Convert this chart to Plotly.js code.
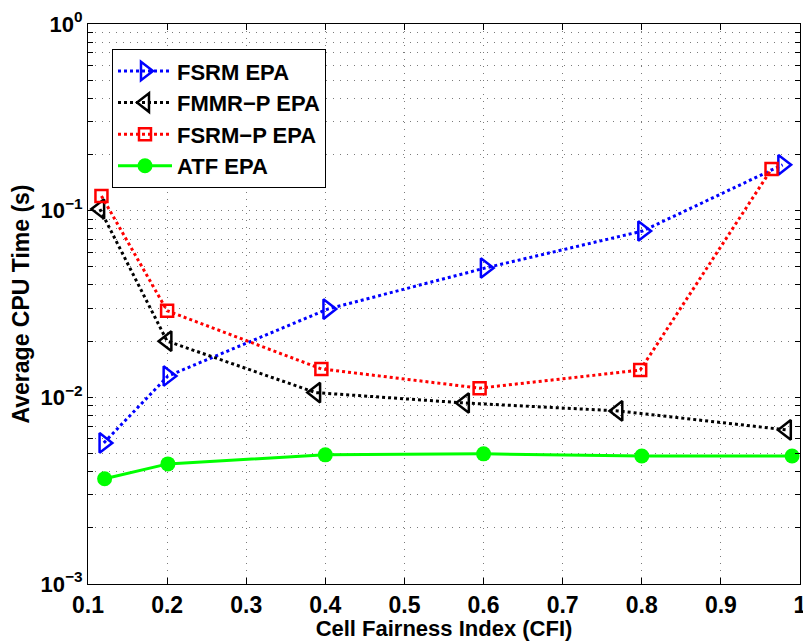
<!DOCTYPE html>
<html>
<head>
<meta charset="utf-8">
<script src="https://cdn.plot.ly/plotly-3.0.1.min.js"></script>
<style>html,body{margin:0;padding:0;background:#fff;}#chart{width:803px;height:641px;}</style>
</head>
<body>
<div id="chart"></div>
<script>
// Series data
const fsrmX  = [0.12, 0.201, 0.403, 0.602, 0.801, 0.978];
const fsrmY  = [0.0057, 0.0130, 0.0297, 0.0493, 0.0778, 0.176];

const fmmrX  = [0.115, 0.2, 0.388, 0.576, 0.77, 0.983];
const fmmrY  = [0.102, 0.0200, 0.0106, 0.00933, 0.00846, 0.00669];

const fsrmpX = [0.117, 0.2, 0.395, 0.595, 0.798, 0.964];
const fsrmpY = [0.120, 0.0291, 0.0142, 0.0112, 0.0140, 0.167];

const atfX   = [0.121, 0.201, 0.4, 0.6, 0.8, 0.99];
const atfY   = [0.00366, 0.00440, 0.00492, 0.00498, 0.00485, 0.00485];

const seriesNames = ['FSRM EPA', 'FMMR\u2212P EPA', 'FSRM\u2212P EPA', 'ATF EPA'];

// Axis ticks
const xTickVals = [0.1, 0.2, 0.3, 0.4, 0.5, 0.6, 0.7, 0.8, 0.9, 1];
const xTickText = ['0.1', '0.2', '0.3', '0.4', '0.5', '0.6', '0.7', '0.8', '0.9', '1'];
const yDecades = [-3, -2, -1, 0];
const yDecadeLabels = ['10<sup>\u22123</sup>', '10<sup>\u22122</sup>', '10<sup>\u22121</sup>', '10<sup>0</sup>'];

const yTickVals = [];
const yTickText = [];
yDecades.forEach((d, i) => {
  const maxM = (d === 0) ? 1 : 9;
  for (let m = 1; m <= maxM; m++) {
    yTickVals.push(m * Math.pow(10, d));
    yTickText.push(m === 1 ? yDecadeLabels[i] : ' ');
  }
});

const fontFam = 'Liberation Sans, Arial, Helvetica, sans-serif';
const gridDash = '1px,6px';

const traces = [
  {x: fsrmX, y: fsrmY, name: seriesNames[0], mode: 'lines+markers',
   line: {color: '#0000ff', width: 3, dash: 'dot'},
   marker: {symbol: 'triangle-right-open', size: 17, color: '#0000ff', line: {width: 2.5, color: '#0000ff'}}},
  {x: fmmrX, y: fmmrY, name: seriesNames[1], mode: 'lines+markers',
   line: {color: '#000000', width: 3, dash: 'dot'},
   marker: {symbol: 'triangle-left-open', size: 17, color: '#000000', line: {width: 2.5, color: '#000000'}}},
  {x: fsrmpX, y: fsrmpY, name: seriesNames[2], mode: 'lines+markers',
   line: {color: '#ff0000', width: 3, dash: 'dot'},
   marker: {symbol: 'square-open', size: 12, color: '#ff0000', line: {width: 2.5, color: '#ff0000'}}},
  {x: atfX, y: atfY, name: seriesNames[3], mode: 'lines+markers',
   line: {color: '#00ff00', width: 3, dash: 'solid'},
   marker: {symbol: 'circle', size: 15, color: '#00ff00'}}
];

const layout = {
  width: 803, height: 641,
  margin: {l: 88, r: 3, t: 24, b: 57},
  paper_bgcolor: '#ffffff', plot_bgcolor: '#ffffff',
  showlegend: true,
  font: {family: fontFam, size: 22, color: '#000', weight: 'bold'},
  xaxis: {
    range: [0.1, 1], tickmode: 'array', tickvals: xTickVals, ticktext: xTickText,
    ticks: 'inside', ticklen: 6, tickwidth: 1, tickcolor: '#000',
    showline: true, linecolor: '#000', linewidth: 1, mirror: 'ticks',
    showgrid: true, gridcolor: '#7a7a7a', griddash: gridDash, gridwidth: 1,
    zeroline: false, ticklabeloverflow: 'allow',
    tickfont: {family: fontFam, size: 23, color: '#000', weight: 'bold'},
    title: {text: 'Cell Fairness Index (CFI)', standoff: 0,
            font: {family: fontFam, size: 22, color: '#000', weight: 'bold'}}
  },
  yaxis: {
    type: 'log', range: [-3, 0], tickmode: 'array', tickvals: yTickVals, ticktext: yTickText,
    ticks: 'inside', ticklen: 5, tickwidth: 1, tickcolor: '#000',
    showline: true, linecolor: '#000', linewidth: 1, mirror: 'ticks',
    showgrid: true, gridcolor: '#7a7a7a', griddash: gridDash, gridwidth: 1,
    zeroline: false, ticklabeloverflow: 'allow',
    tickfont: {family: fontFam, size: 22, color: '#000', weight: 'bold'},
    title: {text: 'Average CPU Time (s)', standoff: 4,
            font: {family: fontFam, size: 23, color: '#000', weight: 'bold'}}
  },
  legend: {
    x: 0.0337, y: 0.955, xanchor: 'left', yanchor: 'top',
    bgcolor: '#ffffff', bordercolor: '#000', borderwidth: 1,
    font: {family: fontFam, size: 22, color: '#000', weight: 'bold'},
    itemwidth: 54, tracegroupgap: 0
  }
};

Plotly.newPlot('chart', traces, layout, {displayModeBar: false, staticPlot: true});
</script>
</body>
</html>
